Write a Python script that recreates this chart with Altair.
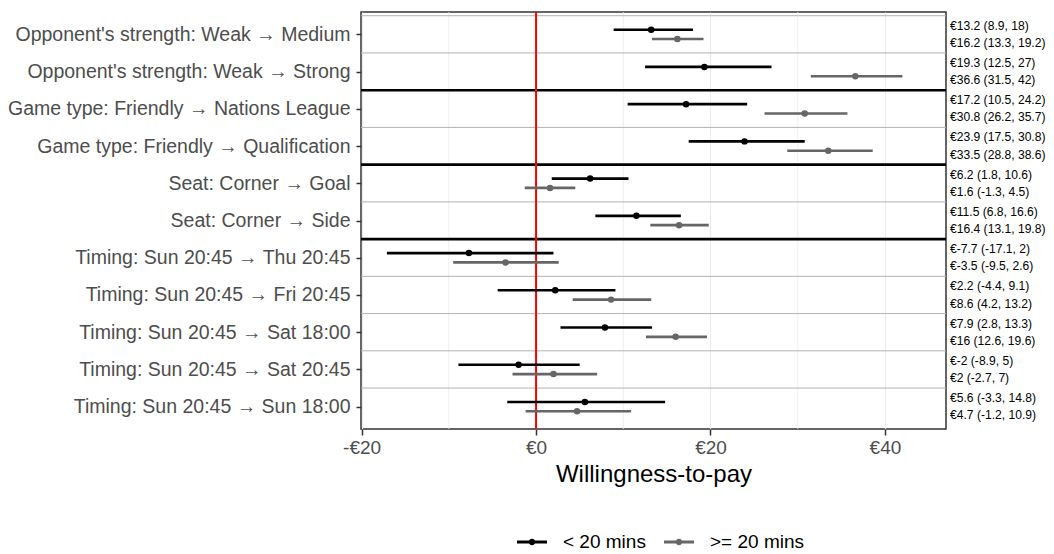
import json
import altair as alt
import pandas as pd

# ---------------- data ----------------
row_labels = [
    "Opponent's strength: Weak → Medium",
    "Opponent's strength: Weak → Strong",
    "Game type: Friendly → Nations League",
    "Game type: Friendly → Qualification",
    "Seat: Corner → Goal",
    "Seat: Corner → Side",
    "Timing: Sun 20:45 → Thu 20:45",
    "Timing: Sun 20:45 → Fri 20:45",
    "Timing: Sun 20:45 → Sat 18:00",
    "Timing: Sun 20:45 → Sat 20:45",
    "Timing: Sun 20:45 → Sun 18:00",
]
groups = ["< 20 mins", ">= 20 mins"]
group_colors = ["#000000", "#666666"]

est_lt = [13.2, 19.3, 17.2, 23.9, 6.2, 11.5, -7.7, 2.2, 7.9, -2, 5.6]
lo_lt = [8.9, 12.5, 10.5, 17.5, 1.8, 6.8, -17.1, -4.4, 2.8, -8.9, -3.3]
hi_lt = [18, 27, 24.2, 30.8, 10.6, 16.6, 2, 9.1, 13.3, 5, 14.8]

est_ge = [16.2, 36.6, 30.8, 33.5, 1.6, 16.4, -3.5, 8.6, 16, 2, 4.7]
lo_ge = [13.3, 31.5, 26.2, 28.8, -1.3, 13.1, -9.5, 4.2, 12.6, -2.7, -1.2]
hi_ge = [19.2, 42, 35.7, 38.6, 4.5, 19.8, 2.6, 13.2, 19.6, 7, 10.9]

group_breaks = [2.5, 4.5, 6.5]          # thick black separators between variable groups
major_ticks = [-20, 0, 20, 40]
minor_grid = [-10, 10, 30]
reference_x = [0]

# ---------------- build tables ----------------
dodge = {groups[0]: -0.125, groups[1]: 0.125}
text_off = {groups[0]: -0.23, groups[1]: 0.23}
recs = []
for i, lab in enumerate(row_labels):
    r = i + 1
    for g, e, lo, hi in ((groups[0], est_lt[i], lo_lt[i], hi_lt[i]),
                         (groups[1], est_ge[i], lo_ge[i], hi_ge[i])):
        recs.append(dict(row=r, label=lab, group=g, est=e, lo=lo, hi=hi,
                         ypos=r + dodge[g], ytext=r + text_off[g],
                         txt=f"€{e:g} ({lo:g}, {hi:g})"))
df = pd.DataFrame(recs)
sep_df = pd.DataFrame({"y": [r - 0.5 for r in range(1, len(row_labels) + 1)]})
brk_df = pd.DataFrame({"y": group_breaks})
minor_df = pd.DataFrame({"x": minor_grid})
ref_df = pd.DataFrame({"x": reference_x})

FONT = "Liberation Sans"
xscale = alt.Scale(domain=[-20.07, 47.0], nice=False, zero=False)
yscale = alt.Scale(domain=[0.4, len(row_labels) + 0.6], reverse=True, nice=False, zero=False)
cscale = alt.Scale(domain=groups, range=group_colors)

label_expr = json.dumps(row_labels, ensure_ascii=False) + "[datum.value - 1]"

xaxis = alt.Axis(values=major_ticks,
                 labelExpr="datum.value < 0 ? '-€' + abs(datum.value) : '€' + datum.value",
                 labelFlush=False,
                 grid=True, gridColor="#ebebeb", gridWidth=1.1,
                 domain=False, tickSize=6, tickColor="#333333", tickWidth=1.5,
                 labelFont=FONT, labelFontSize=19, labelColor="#4d4d4d", labelPadding=3,
                 title="Willingness-to-pay", titleFont=FONT, titleFontSize=24,
                 titleFontWeight="normal", titleColor="#000000", titlePadding=5)
yaxis = alt.Axis(values=list(range(1, len(row_labels) + 1)), labelExpr=label_expr,
                 grid=False, domain=False, tickSize=5, tickColor="#333333", tickWidth=1.5,
                 labelFont=FONT, labelFontSize=19.5, labelColor="#4d4d4d", labelPadding=6,
                 labelLimit=500, title=None)

legend_symbol = ("M-1,-0.1L1,-0.1L1,0.1L-1,0.1Z "
                 "M-0.22,0A0.22,0.22,0,1,1,0.22,0A0.22,0.22,0,1,1,-0.22,0Z")
legend = alt.Legend(title=None, orient="none", direction="horizontal",
                    legendX=156, legendY=515,
                    symbolType=legend_symbol, symbolSize=900,
                    symbolStrokeWidth=0, symbolOpacity=1,
                    labelFont=FONT, labelFontSize=19, labelColor="#000000",
                    labelOffset=16, columnPadding=18)

minor = alt.Chart(minor_df).mark_rule(color="#ebebeb", strokeWidth=0.8).encode(
    x=alt.X("x:Q", scale=xscale, axis=xaxis)
)
seps = alt.Chart(sep_df).mark_rule(color="#b3b3b3", strokeWidth=1).encode(
    y=alt.Y("y:Q", scale=yscale, axis=yaxis)
)
breaks = alt.Chart(brk_df).mark_rule(color="#000000", strokeWidth=2.6).encode(
    y=alt.Y("y:Q", scale=yscale, axis=yaxis)
)
ref = alt.Chart(ref_df).mark_rule(color="#ff0000", strokeWidth=2).encode(
    x=alt.X("x:Q", scale=xscale, axis=xaxis)
)

bars = alt.Chart(df).mark_rule(strokeWidth=2.6).encode(
    x=alt.X("lo:Q", scale=xscale, axis=xaxis),
    x2="hi:Q",
    y=alt.Y("ypos:Q", scale=yscale, axis=yaxis),
    color=alt.Color("group:N", scale=cscale, legend=legend),
)

points = alt.Chart(df).mark_point(filled=True, size=42, opacity=1).encode(
    x=alt.X("est:Q", scale=xscale, axis=xaxis),
    y=alt.Y("ypos:Q", scale=yscale, axis=yaxis),
    color=alt.Color("group:N", scale=cscale, legend=legend),
)

texts = alt.Chart(df).mark_text(align="left", baseline="middle", font=FONT, fontSize=12.1,
                                color="#000000", dx=4).encode(
    x=alt.value(585),
    y=alt.Y("ytext:Q", scale=yscale, axis=yaxis),
    text="txt:N",
)

chart = alt.layer(minor, seps, breaks, ref, bars, points, texts).properties(
    width=585, height=417,
    padding={"left": 353, "top": 4, "right": 100, "bottom": 125},
    autosize=alt.AutoSizeParams(type="none"),
).configure_view(stroke="#333333", strokeWidth=1.5)

chart.save("out.html", embed_options={"renderer": "svg", "actions": False})
